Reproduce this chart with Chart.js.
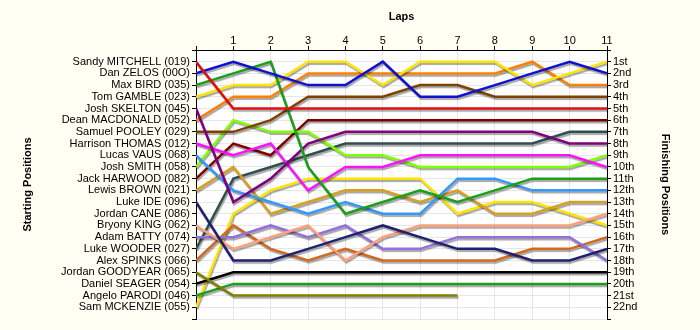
<!DOCTYPE html>
<html>
<head>
<meta charset="utf-8">
<script src="https://cdn.jsdelivr.net/npm/chart.js@4"></script>
<style>
  html, body { margin: 0; padding: 0; background: #fffff4; }
</style>
</head>
<body>
<canvas id="lapChart" width="700" height="330"></canvas>
<script>
const laps = [0, 1, 2, 3, 4, 5, 6, 7, 8, 9, 10, 11];
const rows = [0, 1, 2, 3, 4, 5, 6, 7, 8, 9, 10, 11, 12, 13, 14, 15, 16, 17, 18, 19, 20, 21, 22, 23];

const startingGrid = [
  "Sandy MITCHELL (019)", "Dan ZELOS (00O)", "Max BIRD (035)", "Tom GAMBLE (023)",
  "Josh SKELTON (045)", "Dean MACDONALD (052)", "Samuel POOLEY (029)", "Harrison THOMAS (012)",
  "Lucas VAUS (068)", "Josh SMITH (058)", "Jack HARWOOD (082)", "Lewis BROWN (021)",
  "Luke IDE (096)", "Jordan CANE (086)", "Bryony KING (062)", "Adam BATTY (074)",
  "Luke WOODER (027)", "Alex SPINKS (066)", "Jordan GOODYEAR (065)", "Daniel SEAGER (054)",
  "Angelo PARODI (046)", "Sam MCKENZIE (055)"
];
const finishLabels = [
  "1st", "2nd", "3rd", "4th", "5th", "6th", "7th", "8th", "9th", "10th", "11th",
  "12th", "13th", "14th", "15th", "16th", "17th", "18th", "19th", "20th", "21st", "22nd"
];
const lineColors = [
  "#e01010", "#1010d0", "#18a018", "#ffe400", "#800080", "#ff8000", "#804000", "#ff10ff",
  "#3399ff", "#80ff00", "#800000", "#d8a020", "#202070", "#808080", "#ffa07a", "#9370db",
  "#2f4f4f", "#d2691e", "#808000", "#000000", "#18a018", "#ffe400"
];

// position held at the end of each lap (index = lap, 0 = grid)
const sandyMitchell  = [1, 5, 5, 5, 5, 5, 5, 5, 5, 5, 5, 5];
const danZelos       = [2, 1, 2, 3, 3, 1, 4, 4, 3, 2, 1, 2];
const maxBird        = [3, 2, 1, 10, 14, 13, 12, 13, 12, 11, 11, 11];
const tomGamble      = [4, 3, 3, 1, 1, 3, 1, 1, 1, 3, 2, 1];
const joshSkelton    = [5, 13, 11, 8, 7, 7, 7, 7, 7, 7, 8, 8];
const deanMacdonald  = [6, 4, 4, 2, 2, 2, 2, 2, 2, 1, 3, 3];
const samuelPooley   = [7, 7, 6, 4, 4, 4, 3, 3, 4, 4, 4, 4];
const harrisonThomas = [8, 9, 8, 12, 10, 10, 9, 9, 9, 9, 9, 10];
const lucasVaus      = [9, 12, 13, 14, 13, 14, 14, 11, 11, 12, 12, 12];
const joshSmith      = [10, 6, 7, 7, 9, 9, 10, 10, 10, 10, 10, 9];
const jackHarwood    = [11, 8, 9, 6, 6, 6, 6, 6, 6, 6, 6, 6];
const lewisBrown     = [12, 10, 14, 13, 12, 12, 13, 12, 14, 14, 13, 13];
const lukeIde        = [13, 18, 18, 17, 16, 15, 16, 17, 17, 18, 18, 17];
const jordanCane     = [];
const bryonyKing     = [15, 17, 16, 15, 18, 16, 15, 15, 15, 15, 15, 14];
const adamBatty      = [16, 16, 15, 16, 15, 17, 17, 16, 16, 16, 16, 18];
const lukeWooder     = [17, 11, 10, 9, 8, 8, 8, 8, 8, 8, 7, 7];
const alexSpinks     = [18, 15, 17, 18, 17, 18, 18, 18, 18, 17, 17, 16];
const jordanGoodyear = [19, 21, 21, 21, 21, 21, 21, 21];
const danielSeager   = [20, 19, 19, 19, 19, 19, 19, 19, 19, 19, 19, 19];
const angeloParodi   = [21, 20, 20, 20, 20, 20, 20, 20, 20, 20, 20, 20];
const samMckenzie    = [22, 14, 12, 11, 11, 11, 11, 14, 13, 13, 14, 15];

const positions = [
  sandyMitchell, danZelos, maxBird, tomGamble, joshSkelton, deanMacdonald, samuelPooley,
  harrisonThomas, lucasVaus, joshSmith, jackHarwood, lewisBrown, lukeIde, jordanCane,
  bryonyKing, adamBatty, lukeWooder, alexSpinks, jordanGoodyear, danielSeager,
  angeloParodi, samMckenzie
];

const tickFont = { family: "'Liberation Sans', Arial, sans-serif", size: 11 };
const titleFont = { family: "'Liberation Sans', Arial, sans-serif", size: 11, weight: "bold" };
const gridColor = "#e6e6e6";

const plotBackground = {
  id: "plotBackground",
  beforeDraw(chart) {
    const { ctx, chartArea: a } = chart;
    ctx.save();
    ctx.fillStyle = "#ffffff";
    ctx.fillRect(a.left, a.top, a.right - a.left, a.bottom - a.top);
    ctx.restore();
  }
};

const lineShadow = {
  id: "lineShadow",
  beforeDatasetsDraw(chart) {
    const ctx = chart.ctx;
    ctx.save();
    ctx.shadowColor = "rgba(0, 0, 0, 0.35)";
    ctx.shadowOffsetX = 1;
    ctx.shadowOffsetY = 2;
    ctx.shadowBlur = 1;
  },
  afterDatasetsDraw(chart) {
    chart.ctx.restore();
  }
};

const datasets = positions.map((pos, i) => ({
  label: startingGrid[i],
  data: pos.map((p, lap) => ({ x: laps[lap], y: p })),
  borderColor: lineColors[i],
  backgroundColor: lineColors[i],
  borderWidth: 2.5,
  pointRadius: 0,
  tension: 0,
  yAxisID: "y"
}));

const positionTicks = (scale) => {
  scale.ticks = rows.map((v) => ({ value: v }));
};

new Chart(document.getElementById("lapChart"), {
  type: "line",
  data: { datasets: datasets },
  options: {
    responsive: false,
    animation: false,
    layout: { padding: { top: 0, left: 0, right: 0, bottom: 11 } },
    plugins: {
      legend: { display: false },
      tooltip: { enabled: false }
    },
    scales: {
      x: {
        type: "linear",
        position: "top",
        min: 0,
        max: 11,
        afterBuildTicks: (scale) => {
          scale.ticks = laps.map((v) => ({ value: v }));
        },
        afterFit: (scale) => { scale.height = 50; },
        ticks: {
          callback: (v) => (v === 0 ? "" : v),
          font: tickFont,
          color: "#000",
          padding: -2,
          maxRotation: 0,
          autoSkip: false
        },
        grid: { color: gridColor, tickColor: "#000", tickLength: 4 },
        border: { color: "#000" },
        title: { display: true, text: "Laps", font: titleFont, color: "#000", padding: { top: 10, bottom: 0 } }
      },
      y: {
        type: "linear",
        position: "left",
        reverse: true,
        min: 0,
        max: 23,
        afterBuildTicks: positionTicks,
        afterFit: (scale) => { scale.width = 196; },
        ticks: {
          callback: (v) => startingGrid[v - 1] || "",
          font: tickFont,
          color: "#000",
          padding: 2,
          autoSkip: false
        },
        grid: { color: gridColor, tickColor: "#000", tickLength: 4 },
        border: { color: "#000" },
        title: { display: true, text: "Starting Positions", font: titleFont, color: "#000", padding: { top: 21, bottom: 0 } }
      },
      y2: {
        type: "linear",
        position: "right",
        reverse: true,
        min: 0,
        max: 23,
        afterBuildTicks: positionTicks,
        afterFit: (scale) => { scale.width = 93; },
        ticks: {
          callback: (v) => finishLabels[v - 1] || "",
          font: tickFont,
          color: "#000",
          padding: 2,
          autoSkip: false
        },
        grid: { drawOnChartArea: false, tickColor: "#000", tickLength: 4 },
        border: { color: "#000" },
        title: { display: true, text: "Finishing Positions", font: titleFont, color: "#000", padding: { top: 28, bottom: 0 } }
      }
    }
  },
  plugins: [plotBackground, lineShadow]
});
</script>
</body>
</html>
